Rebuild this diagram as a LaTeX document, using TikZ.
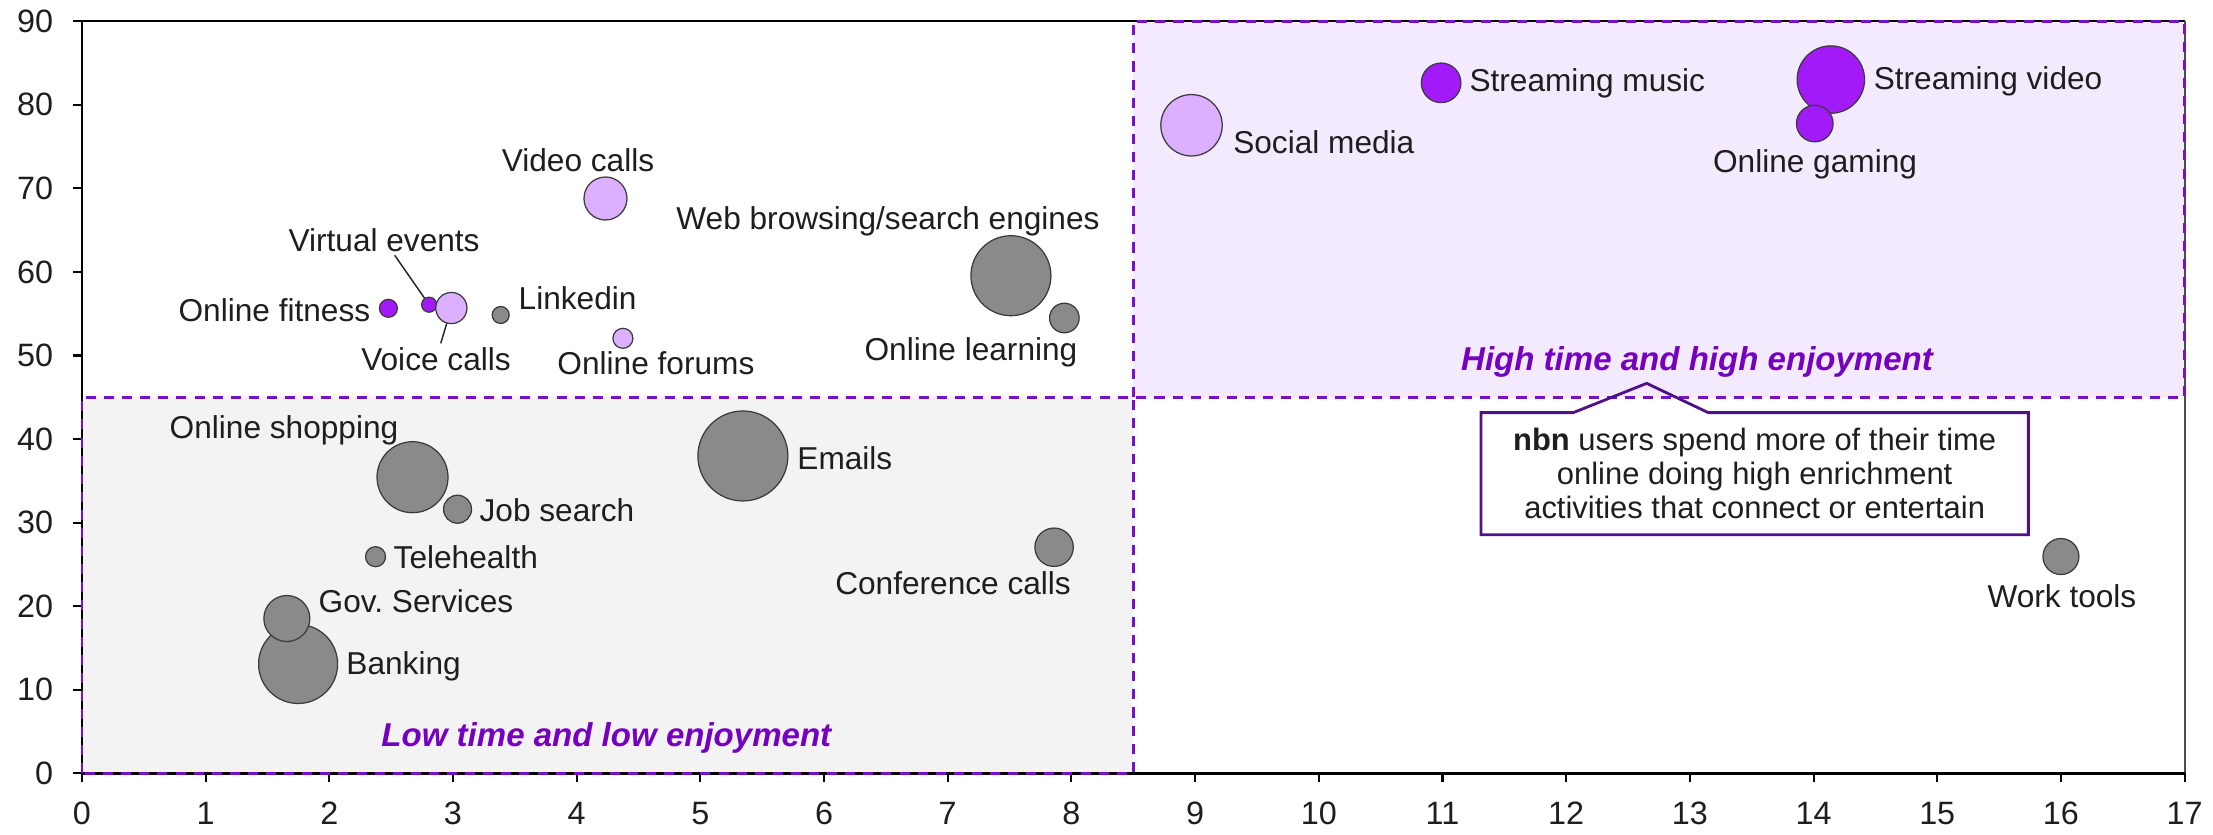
\documentclass[tikz,border=0pt]{standalone}
\usepackage{fontspec}
\setmainfont{Liberation Sans}
\usetikzlibrary{calc}
\definecolor{bgray}{HTML}{8A8A8A}
\definecolor{lpurple}{HTML}{DCAFFF}
\definecolor{bpurple}{HTML}{A31AF8}
\definecolor{dashc}{HTML}{7A0FC8}
\definecolor{qtext}{HTML}{7500C0}
\definecolor{lowfill}{HTML}{F3F3F3}
\definecolor{highfill}{HTML}{F3EAFE}
\definecolor{calloutc}{HTML}{4F1187}
\definecolor{edgec}{HTML}{3A3A3A}
\definecolor{txt}{HTML}{1E1E1E}
\begin{document}
\begin{tikzpicture}[
  lbl/.style={inner sep=0pt, text=txt, font=\fontsize{9}{10.8}\selectfont},
  ticklbl/.style={inner sep=0pt, text=txt, font=\fontsize{9.2}{10.8}\selectfont},
  qlbl/.style={inner sep=0pt, text=qtext, font=\fontsize{9.4}{11}\selectfont\bfseries\itshape},
  bub/.style={circle, inner sep=0pt, draw=edgec, line width=0.35pt, minimum size=#1},
  bg/.style={bub=#1, fill=bgray},
  bl/.style={bub=#1, fill=lpurple},
  bp/.style={bub=#1, fill=bpurple},
  qdash/.style={draw=dashc, line width=0.75pt, dash pattern=on 2.85pt off 2.3pt},
  leader/.style={draw=txt, line width=0.4pt},
  callout/.style={draw=calloutc, line width=0.8pt, line join=miter},
  notetext/.style={inner sep=0pt, text=txt, align=center, font=\fontsize{8.8}{9.7}\selectfont}
]
\useasboundingbox (0,0) rectangle (22.13,8.35);
\begin{scope}[shift={(0.819,0.616)}, x=1.2369cm, y=0.08358cm]
  % quadrant fills
  \fill[lowfill] (0,0) rectangle (8.5,45);
  \fill[highfill] (8.5,45) rectangle (17,90);
  % frame and axes
  \draw[black, line width=0.6pt] (0,90) -- (17,90);
  \draw[black!70, line width=0.5pt] (17,90) -- (17,0);
  \draw[black, line width=0.7pt] (0,0) -- (0,90);
  \draw[black, line width=0.9pt] (0,0) -- (17,0);
  \foreach \v in {0,10,...,90} {
    \draw[black, line width=0.6pt] (0,\v) -- ++(-0.09cm,0);
    \node[ticklbl, anchor=east] (yl\v) at ([xshift=-0.28cm]0,\v) {\v};
  }
  \foreach \v in {0,...,17} {
    \draw[black, line width=0.6pt] (\v,0) -- ++(0,-0.09cm);
    \node[ticklbl] (xl\v) at ([yshift=-0.40cm]\v,0) {\v};
  }
  % quadrant borders
  \draw[qdash] (0,0) rectangle (8.5,45);
  \draw[qdash] (8.5,45) rectangle (17,90);

  % bubbles
  \node[bg=0.79cm] (bank) at (1.748,13.09) {};
  \node[bg=0.46cm] (gov) at (1.657,18.53) {};
  \node[bg=0.20cm] (tele) at (2.374,25.93) {};
  \node[bg=0.71cm] (shop) at (2.673,35.44) {};
  \node[bg=0.28cm] (job) at (3.037,31.61) {};
  \node[bg=0.90cm] (email) at (5.344,37.98) {};
  \node[bg=0.384cm] (conf) at (7.86,27.06) {};
  \node[bp=0.18cm] (fit) at (2.478,55.65) {};
  \node[bp=0.15cm] (vev) at (2.807,56.08) {};
  \node[bl=0.312cm] (voice) at (2.987,55.68) {};
  \node[bg=0.17cm] (lnk) at (3.386,54.85) {};
  \node[bl=0.43cm] (video) at (4.233,68.79) {};
  \node[bl=0.20cm] (forum) at (4.374,52.06) {};
  \node[bg=0.80cm] (web) at (7.511,59.55) {};
  \node[bg=0.296cm] (learn) at (7.943,54.49) {};
  \node[bl=0.614cm] (social) at (8.971,77.55) {};
  \node[bp=0.396cm] (music) at (10.989,82.63) {};
  \node[bp=0.674cm] (svideo) at (14.14,83.02) {};
  \node[bp=0.366cm] (gaming) at (14.01,77.76) {};
  \node[bg=0.36cm] (work) at (16.0,25.95) {};

  % labels
  \node[lbl] (video-l) at (4.011,73.39) {Video calls};
  \node[lbl] (vev-l) at (2.443,63.82) {Virtual events};
  \node[lbl, anchor=east] (fit-l) at (2.337,55.45) {Online fitness};
  \node[lbl, anchor=west] (lnk-l) at (3.526,56.89) {Linkedin};
  \node[lbl] (voice-l) at (2.863,49.58) {Voice calls};
  \node[lbl] (forum-l) at (4.641,49.10) {Online forums};
  \node[lbl] (web-l) at (6.517,66.09) {Web browsing/search engines};
  \node[lbl] (learn-l) at (7.188,50.42) {Online learning};
  \node[lbl] (shop-l) at (1.634,41.07) {Online shopping};
  \node[lbl, anchor=west] (email-l) at (5.779,37.70) {Emails};
  \node[lbl, anchor=west] (job-l) at (3.210,31.51) {Job search};
  \node[lbl, anchor=west] (tele-l) at (2.515,25.81) {Telehealth};
  \node[lbl, anchor=west] (gov-l) at (1.909,20.63) {Gov.\ Services};
  \node[lbl, anchor=west] (bank-l) at (2.133,12.77) {Banking};
  \node[lbl] (conf-l) at (7.043,22.75) {Conference calls};
  \node[lbl, anchor=west] (social-l) at (9.303,75.58) {Social media};
  \node[lbl, anchor=west] (music-l) at (11.213,82.57) {Streaming music};
  \node[lbl, anchor=west] (svideo-l) at (14.481,82.84) {Streaming video};
  \node[lbl] (gaming-l) at (14.012,72.88) {Online gaming};
  \node[lbl] (work-l) at (16.008,21.23) {Work tools};
  \node[qlbl] (high-l) at (13.058,49.26) {High time and high enjoyment};
  \node[qlbl] (low-l) at (4.240,4.20) {Low time and low enjoyment};

  % leader lines
  \draw[leader, shorten <=1pt] (vev-l) -- (vev);
  \draw[leader, shorten >=1pt] (voice) -- (voice-l);

  % callout
  \node[notetext, minimum width=5.46cm, minimum height=1.207cm] (note) at (13.524,35.86)
    {\textbf{nbn} users spend more of their time\\online doing high enrichment\\activities that connect or entertain};
  \coordinate (apex) at (12.651,46.67);
  \coordinate (plx) at (12.057,0);
  \coordinate (prx) at (13.149,0);
  \draw[callout] (note.north west) -- (note.south west) -- (note.south east) -- (note.north east)
    -- (prx |- note.north) -- (apex) -- (plx |- note.north) -- cycle;
\end{scope}
\end{tikzpicture}
\end{document}
